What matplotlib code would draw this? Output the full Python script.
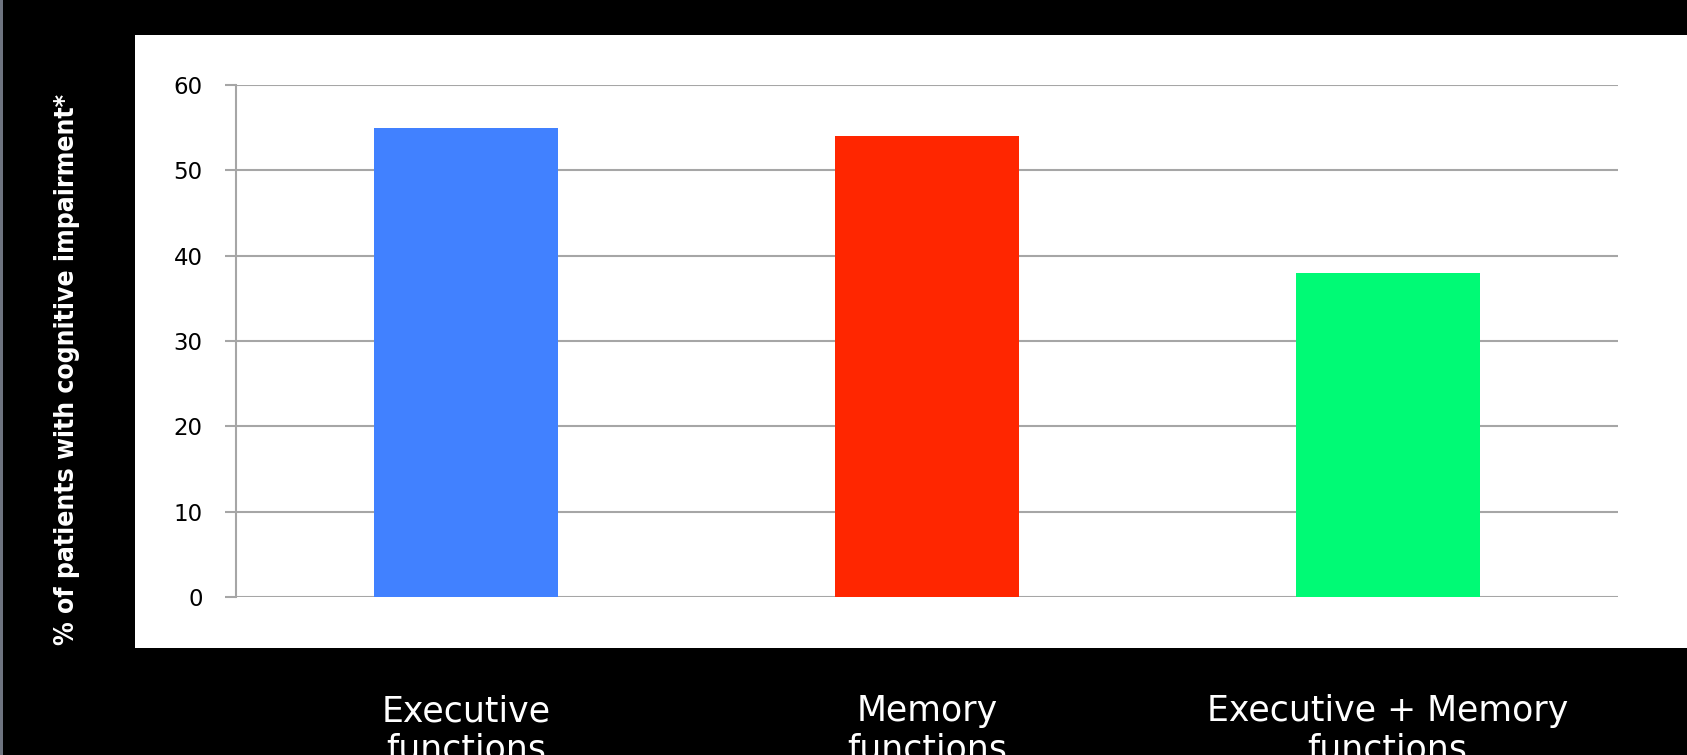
import matplotlib
matplotlib.use("Agg")
import matplotlib.pyplot as plt
import matplotlib.patches as patches
import numpy as np

categories = ["Executive\nfunctions", "Memory\nfunctions", "Executive + Memory\nfunctions"]
values = [55, 54, 38]
bar_colors = ["#4181FF", "#FF2600", "#00FA75"]
yticks = [0, 10, 20, 30, 40, 50, 60]
ylabel = "% of patients with cognitive impairment*"

W, H = 1687, 755
fig = plt.figure(figsize=(W / 100, H / 100), dpi=100, facecolor="black")

# white panel behind the plot area and thin gray strip on the left edge
fig.patches.append(patches.Rectangle((134.5 / W, 107.3 / H), 1 - 134.5 / W, (720 - 107.3) / H,
                                     transform=fig.transFigure, facecolor="white",
                                     edgecolor="none", zorder=-2))
fig.patches.append(patches.Rectangle((0, 0), 2.5 / W, 1, transform=fig.transFigure,
                                     facecolor="#6E7480", edgecolor="none", zorder=-2))

ax = fig.add_axes([236 / W, 158 / H, (1618 - 236) / W, (670 - 158) / H], zorder=1)
ax.set_facecolor("none")

x = np.arange(len(categories))
ax.bar(x, values, width=0.4, color=bar_colors, zorder=3)

ax.set_xlim(-0.5, len(categories) - 0.5)
ax.set_ylim(0, 60)
ax.set_yticks(yticks)
ax.yaxis.grid(True, color="#A6A6A6", linewidth=1.5, zorder=1)
ax.tick_params(axis="y", length=8, width=1.5, color="#A6A6A6", pad=16,
               labelsize=16.5, labelcolor="black")

ax.set_xticks(x)
ax.set_xticklabels(categories, color="white", fontsize=25, linespacing=1.15)
ax.tick_params(axis="x", length=0, pad=70)

for side in ["top", "right", "bottom"]:
    ax.spines[side].set_visible(False)
ax.spines["left"].set_color("#A6A6A6")
ax.spines["left"].set_linewidth(1.5)

fig.text(67 / W, (755 - 369) / H, ylabel, rotation=90, color="white",
         fontsize=19, fontweight="bold", fontstretch="condensed",
         ha="center", va="center")

fig.savefig("out.png", dpi=100, facecolor="black")
